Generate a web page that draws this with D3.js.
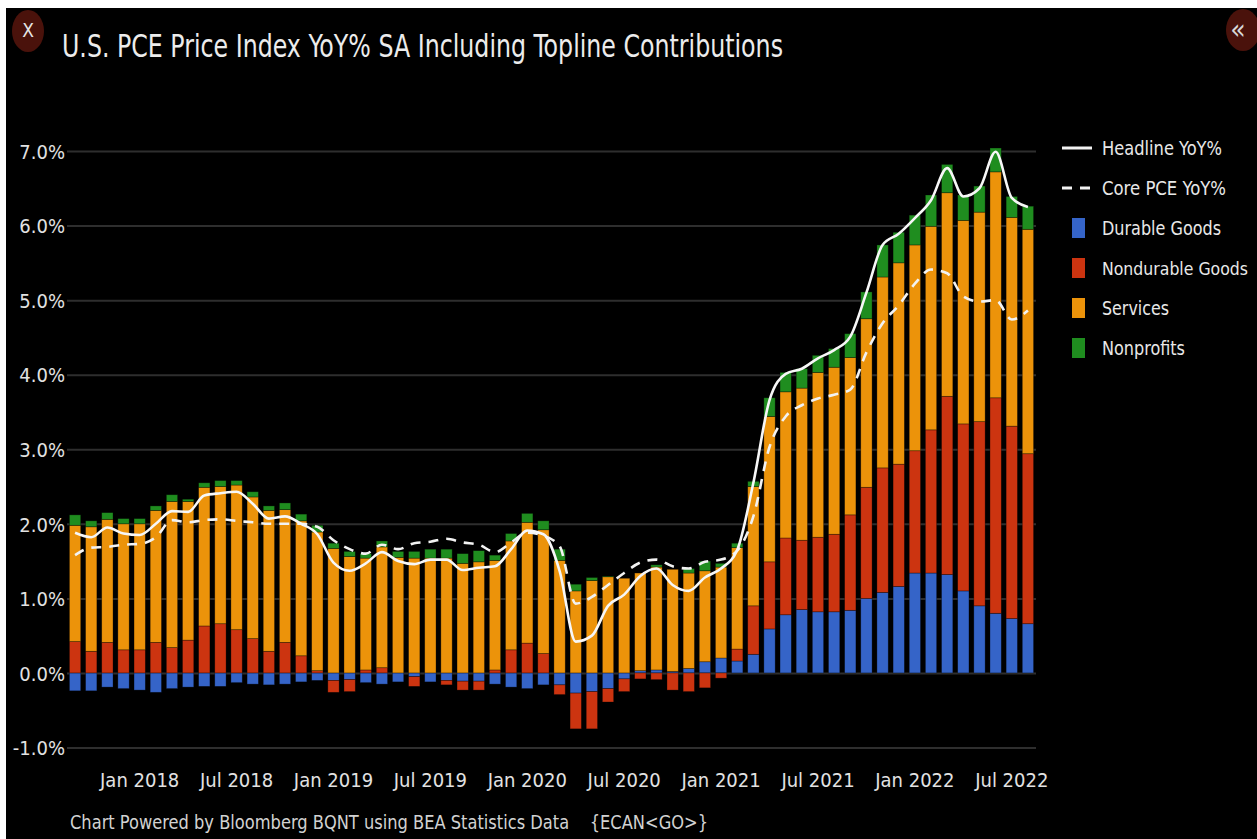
<!DOCTYPE html>
<html>
<head>
<meta charset="utf-8">
<script src="https://cdn.jsdelivr.net/npm/d3@7/dist/d3.min.js"></script>
<style>
   body { margin: 0; background: #fff; }
   svg { display: block; }
   text { font-family: "DejaVu Sans Condensed", "Liberation Sans Narrow", "DejaVu Sans", sans-serif; font-stretch: condensed; }
</style>
</head>
<body>
<svg id="chart" width="1257" height="839"></svg>
<script>
// months Sep 2017 .. Aug 2022
var months = [
   "2017-09","2017-10","2017-11","2017-12",
   "2018-01","2018-02","2018-03","2018-04","2018-05","2018-06","2018-07","2018-08","2018-09","2018-10","2018-11","2018-12",
   "2019-01","2019-02","2019-03","2019-04","2019-05","2019-06","2019-07","2019-08","2019-09","2019-10","2019-11","2019-12",
   "2020-01","2020-02","2020-03","2020-04","2020-05","2020-06","2020-07","2020-08","2020-09","2020-10","2020-11","2020-12",
   "2021-01","2021-02","2021-03","2021-04","2021-05","2021-06","2021-07","2021-08","2021-09","2021-10","2021-11","2021-12",
   "2022-01","2022-02","2022-03","2022-04","2022-05","2022-06","2022-07","2022-08"
];

// contributions, percentage points
var durable = [
   -0.24,-0.24,-0.19,-0.21,
   -0.23,-0.26,-0.21,-0.19,-0.18,-0.18,-0.13,-0.15,-0.16,-0.15,-0.12,-0.10,
   -0.10,-0.09,-0.13,-0.15,-0.12,-0.05,-0.12,-0.10,-0.11,-0.11,-0.15,-0.19,
   -0.21,-0.16,-0.16,-0.27,-0.25,-0.21,-0.08,0.03,0.04,0.02,0.06,0.15,
   0.20,0.16,0.25,0.59,0.78,0.85,0.82,0.82,0.84,1.00,1.08,1.16,
   1.34,1.34,1.32,1.10,0.90,0.80,0.73,0.66
];
var nondurable = [
   0.42,0.29,0.41,0.31,
   0.31,0.41,0.34,0.44,0.63,0.66,0.58,0.46,0.29,0.41,0.23,0.03,
   -0.16,-0.16,0.04,0.07,0.00,-0.13,0.00,-0.06,-0.12,-0.12,0.04,0.31,
   0.40,0.26,-0.13,-0.48,-0.50,-0.18,-0.17,-0.08,-0.09,-0.23,-0.25,-0.20,
   -0.07,0.16,0.65,0.90,1.03,0.93,1.00,1.04,1.28,1.49,1.67,1.64,
   1.64,1.92,2.39,2.24,2.47,2.89,2.58,2.28
];
var services = [
   1.56,1.67,1.65,1.69,
   1.69,1.77,1.96,1.86,1.86,1.84,1.94,1.90,1.89,1.78,1.81,1.86,
   1.67,1.56,1.50,1.62,1.55,1.54,1.54,1.54,1.47,1.49,1.47,1.46,
   1.62,1.66,1.51,1.10,1.24,1.29,1.27,1.31,1.38,1.37,1.28,1.22,
   1.22,1.36,1.60,1.95,1.96,2.04,2.21,2.24,2.11,2.26,2.56,2.70,
   2.76,2.73,2.73,2.73,2.81,3.03,2.80,3.01
];
var nonprofits = [
   0.14,0.08,0.09,0.07,
   0.07,0.06,0.09,0.03,0.06,0.08,0.06,0.07,0.06,0.09,0.09,0.09,
   0.07,0.07,0.06,0.08,0.08,0.09,0.12,0.12,0.13,0.15,0.07,0.10,
   0.12,0.12,0.15,0.09,0.04,0.01,0.00,0.00,0.03,0.00,0.06,0.13,
   0.05,0.06,0.07,0.25,0.26,0.26,0.23,0.25,0.32,0.36,0.43,0.41,
   0.40,0.42,0.38,0.34,0.35,0.32,0.28,0.31
];

// YoY % lines
var headline = [
   1.88,1.82,1.95,1.87,
   1.85,2.00,2.17,2.16,2.38,2.41,2.43,2.27,2.07,2.10,2.00,1.86,
   1.48,1.37,1.47,1.62,1.50,1.46,1.52,1.52,1.38,1.41,1.43,1.66,
   1.91,1.86,1.37,0.42,0.50,0.90,1.05,1.30,1.40,1.18,1.10,1.28,
   1.40,1.65,2.55,3.66,4.01,4.08,4.22,4.33,4.51,5.10,5.74,5.89,
   6.10,6.34,6.77,6.39,6.50,6.99,6.37,6.25
];
var core = [
   1.58,1.68,1.69,1.72,
   1.73,1.82,2.05,2.02,2.05,2.06,2.04,2.02,2.00,2.00,2.00,1.96,
   1.78,1.66,1.60,1.72,1.66,1.74,1.76,1.80,1.75,1.72,1.62,1.75,
   1.88,1.84,1.70,0.93,1.02,1.18,1.34,1.48,1.52,1.43,1.40,1.49,
   1.52,1.64,2.10,3.03,3.44,3.59,3.68,3.73,3.80,4.30,4.69,4.93,
   5.22,5.41,5.36,5.05,4.98,5.00,4.74,4.86
];

var yTicks = [-1, 0, 1, 2, 3, 4, 5, 6, 7];
var xTicks = ["2018-01","2018-07","2019-01","2019-07","2020-01","2020-07","2021-01","2021-07","2022-01","2022-07"];
var xTickLabels = ["Jan 2018","Jul 2018","Jan 2019","Jul 2019","Jan 2020","Jul 2020","Jan 2021","Jul 2021","Jan 2022","Jul 2022"];

var seriesKeys = ["durable", "nondurable", "services", "nonprofits"];
var seriesColors = { durable: "#3564c8", nondurable: "#cc3410", services: "#ec930a", nonprofits: "#1f8d1f" };
var legendLabels = ["Headline YoY%", "Core PCE YoY%", "Durable Goods", "Nondurable Goods", "Services", "Nonprofits"];
var legendKinds = ["line", "dash", "durable", "nondurable", "services", "nonprofits"];
var legendWidths = [120, 124, 119, 146, 67, 83];

var svg = d3.select("#chart");
var W = 1257, H = 839;

// page frame: white strips on top/left, black panel
svg.append("rect").attr("width", W).attr("height", H).attr("fill", "#fff");
svg.append("rect").attr("x", 6).attr("y", 8).attr("width", W - 6).attr("height", H - 8).attr("fill", "#000");

// close / collapse buttons
svg.append("ellipse").attr("cx", 28).attr("cy", 31).attr("rx", 16).attr("ry", 21).attr("fill", "#4a120b");
svg.append("text").attr("x", 28).attr("y", 37).attr("text-anchor", "middle")
   .attr("fill", "#e6e6e6").attr("font-size", 19).text("X");
svg.append("ellipse").attr("cx", 1243).attr("cy", 30).attr("rx", 17).attr("ry", 21).attr("fill", "#4a120b");
svg.append("text").attr("x", 1238).attr("y", 39).attr("text-anchor", "middle")
   .attr("fill", "#d8d8d8").attr("font-size", 28).text("\u00AB");

// title
svg.append("text").attr("x", 62).attr("y", 57)
   .attr("fill", "#ececec").attr("font-size", 32)
   .attr("textLength", 721).attr("lengthAdjust", "spacingAndGlyphs")
   .text("U.S. PCE Price Index YoY% SA Including Topline Contributions");

var plotLeft = 67, plotRight = 1036;

var x = d3.scaleBand().domain(months).range([plotLeft, plotRight])
   .paddingInner(0.3).paddingOuter(0.15);
var y = d3.scaleLinear().domain([-1, 7]).range([747.5, 151]);

// grid + y labels
var yAxis = d3.axisLeft(y).tickValues(yTicks)
   .tickSize(-(plotRight - plotLeft)).tickPadding(2)
   .tickFormat(function(d){ return d.toFixed(1) + "%"; });
var gy = svg.append("g").attr("transform", "translate(" + plotLeft + ",0)").call(yAxis);
gy.select(".domain").remove();
gy.selectAll("line").attr("stroke", "#2e2e2e").attr("stroke-width", 2);
gy.selectAll("text").attr("fill", "#e2e2e2").attr("font-size", 20).attr("dy", "0.36em");
gy.attr("font-family", null);

// x labels
var labelOf = {};
xTicks.forEach(function(m, i){ labelOf[m] = xTickLabels[i]; });
var xAxis = d3.axisBottom(x).tickValues(xTicks).tickSize(0).tickPadding(0)
   .tickFormat(function(d){ return labelOf[d]; });
var gx = svg.append("g").attr("transform", "translate(0,772)").call(xAxis);
gx.select(".domain").remove();
gx.selectAll("text").attr("fill", "#e2e2e2").attr("font-size", 20).attr("dy", "0.75em");
gx.attr("font-family", null);

// stacked contribution bars
var rows = months.map(function(m, i){
   return { month: m, durable: durable[i], nondurable: nondurable[i], services: services[i], nonprofits: nonprofits[i] };
});
var stacked = d3.stack().keys(seriesKeys).offset(d3.stackOffsetDiverging)(rows);

svg.append("g").selectAll("g")
   .data(stacked)
   .enter()
   .append("g")
   .attr("fill", function(s){ return seriesColors[s.key]; })
   .selectAll("rect")
   .data(function(s){ return s; })
   .enter()
   .append("rect")
   .attr("x", function(d){ return x(d.data.month); })
   .attr("width", x.bandwidth())
   .attr("y", function(d){ return y(Math.max(d[0], d[1])); })
   .attr("height", function(d){ return Math.abs(y(d[0]) - y(d[1])); })
   .attr("stroke", "rgba(0,0,0,0.45)")
   .attr("stroke-width", 0.7);

// headline / core lines
var lineGen = function(vals){
   return d3.line()
      .x(function(d, i){ return x(months[i]) + x.bandwidth() / 2; })
      .y(function(d){ return y(d); })
      .curve(d3.curveMonotoneX)(vals);
};
svg.append("path").attr("d", lineGen(core)).attr("fill", "none")
   .attr("stroke", "#f2f2f2").attr("stroke-width", 2.6).attr("stroke-dasharray", "10,8");
svg.append("path").attr("d", lineGen(headline)).attr("fill", "none")
   .attr("stroke", "#f7f7f7").attr("stroke-width", 2.6);

// legend
var lg = svg.append("g").attr("transform", "translate(1062,148)");
legendLabels.forEach(function(label, i){
   var kind = legendKinds[i];
   var row = lg.append("g").attr("transform", "translate(0," + (i * 40) + ")");
   if(kind == "line" || kind == "dash"){
      row.append("line").attr("x1", 0).attr("x2", 30).attr("y1", 0).attr("y2", 0)
         .attr("stroke", "#f2f2f2").attr("stroke-width", 3)
         .attr("stroke-dasharray", kind == "dash" ? "10,8" : null);
   } else {
      row.append("rect").attr("x", 10).attr("y", -10).attr("width", 13).attr("height", 20)
         .attr("fill", seriesColors[kind]);
   }
   row.append("text").attr("x", 40).attr("y", 7)
      .attr("fill", "#e8e8e8").attr("font-size", i == 3 ? 18 : 20)
      .attr("textLength", legendWidths[i]).attr("lengthAdjust", "spacingAndGlyphs")
      .text(label);
});

// footer, one text with preserved spacing before the function code
svg.append("text").attr("x", 70).attr("y", 829)
   .attr("fill", "#d2d2d2").attr("font-size", 20)
   .style("white-space", "pre")
   .attr("textLength", 638).attr("lengthAdjust", "spacingAndGlyphs")
   .text("Chart Powered by Bloomberg BQNT using BEA Statistics Data    {ECAN<GO>}");
</script>
</body>
</html>
